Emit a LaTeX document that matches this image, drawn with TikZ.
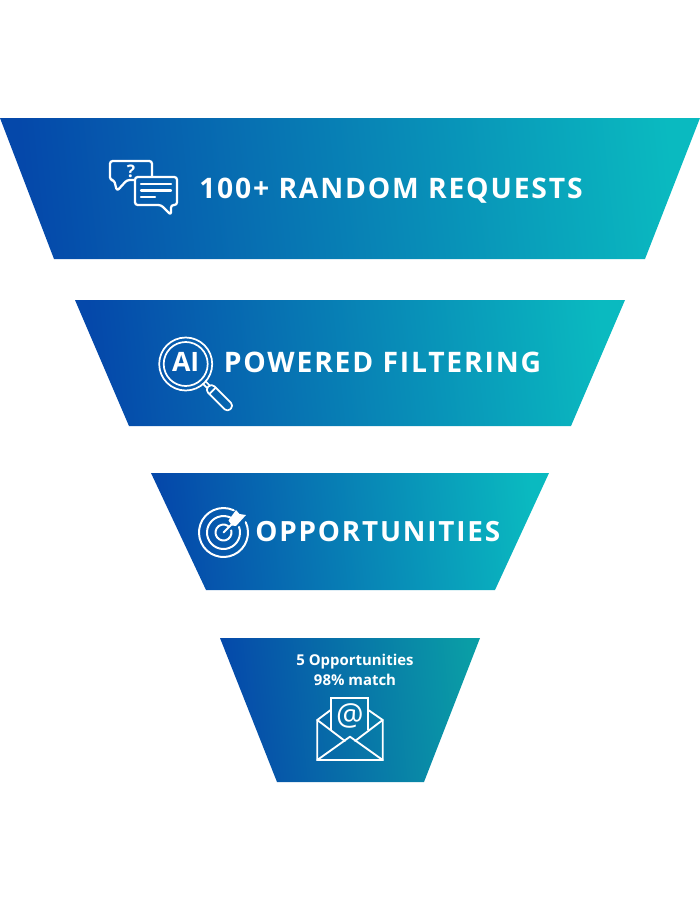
\documentclass[tikz,border=0pt]{standalone}
\usepackage{fontspec}
\setmainfont{Open Sans}
\newfontfamily\spacedfont[LetterSpace=6.5]{Open Sans}
\definecolor{funnelblue}{HTML}{0548AA}
\definecolor{funnelteal}{HTML}{0ABAC0}
\definecolor{funneldeep}{HTML}{0A9DA6}

\begin{document}
\begin{tikzpicture}[
    x=0.75pt, y=-0.75pt,
    band/.style={top color=funnelblue, bottom color=funnelteal, middle color=funnelblue!50!funnelteal, shading angle=96},
    lastband/.style={top color=funnelblue, bottom color=funneldeep, middle color=funnelblue!50!funneldeep, shading angle=96},
    heading/.style={anchor=base west, inner sep=0pt, text=white, font=\spacedfont\bfseries\fontsize{21.2}{24}\selectfont},
    small/.style={align=center, inner sep=0pt, text=white, font=\bfseries\fontsize{11.2}{15}\selectfont},
    icon/.style={draw=white, line width=1.7pt, line join=round, line cap=round}
  ]
  \useasboundingbox (0,0) rectangle (700,900);

  % funnel bands
  \shade[band] (0,118) -- (700,118) -- (645,259) -- (54,259) -- cycle;
  \shade[band] (75,300) -- (625,300) -- (571,426) -- (129,426) -- cycle;
  \shade[band] (151,473) -- (549,473) -- (495,590) -- (206,590) -- cycle;
  \shade[lastband] (220,638) -- (480,638) -- (424,782) -- (277,782) -- cycle;

  % headings
  \node[heading] (requests) at (199,198) {100+ RANDOM REQUESTS};
  \node[heading] (filtering) at (223.5,372) {POWERED FILTERING};
  \node[heading, font=\spacedfont\bfseries\fontsize{20.9}{24}\selectfont] (opportunities) at (255,541) {OPPORTUNITIES};
  \node[small] (match) at (355,670) {5 Opportunities\\98\% match};

  % chat bubbles
  \draw[icon, rounded corners=2pt] (134,180) -- (127,180) -- (117,191) -- (114,180) -- (110,180) -- (110,161) -- (152,161) -- (152,176);
  \draw[icon, rounded corners=2pt] (135,177) -- (177,177) -- (177,205) -- (171,205) -- (171,215) -- (161,205) -- (135,205) -- cycle;
  \draw[icon] (141,184) -- (171,184) (141,190.5) -- (171,190.5) (141,197) -- (155,197);
  \node[inner sep=0pt, text=white, font=\bfseries\fontsize{13}{14}\selectfont] (question) at (131,171) {?};

  % magnifier
  \draw[icon, line width=1.3pt] (185.7,364) circle (26.5);
  \draw[icon, line width=1.3pt] (185.7,364) circle (22);
  \node[inner sep=0pt, text=white, font=\bfseries\fontsize{20}{22}\selectfont] (ai) at (185.7,362) {AI};
  \begin{scope}[shift={(185.7,364)}, rotate=-45]
    \draw[icon, line width=1.3pt] (26.5,-1.8) -- (32,-1.8) (26.5,1.8) -- (32,1.8);
    \draw[icon, line width=1.3pt, rounded corners=3pt] (32,-4.5) rectangle (63.5,4.5);
    \draw[icon, line width=1.3pt] (38,-4.5) -- (38,4.5);
  \end{scope}

  % target
  \draw[icon, line width=1.5pt] (223.5,532.5) ++(-25:24.5) arc[start angle=-25, end angle=295, radius=24.5];
  \draw[icon, line width=1.5pt] (223.5,532.5) ++(-20:16.5) arc[start angle=-20, end angle=300, radius=16.5];
  \draw[icon, line width=1.5pt] (223.5,532.5) ++(-15:8) arc[start angle=-15, end angle=305, radius=8];
  \draw[icon, line width=1.5pt] (223.5,532.5) -- (232,524);
  \fill[white] (232,525.5) -- (228.5,520.5) -- (236,510) -- (239.5,514) -- (246,515) -- (236,526) -- cycle;

  % envelope
  \draw[icon, line width=1.4pt, line join=miter, line cap=butt] (330.7,730) -- (330.7,697.7) -- (368.3,697.7) -- (368.3,730);
  \draw[icon, line width=1.4pt, line join=miter] (330.7,710) -- (317.3,720) -- (317.3,760) -- (382.7,760) -- (382.7,720) -- (368.3,710);
  \draw[icon, line width=1.4pt] (317.3,720) -- (345,741) (382.7,720) -- (355,741);
  \draw[icon, line width=1.4pt] (317.3,760) -- (350,736.7) -- (382.7,760);
  \node[inner sep=0pt, text=white, font=\fontsize{23}{24}\selectfont] (at) at (350,716) {@};
\end{tikzpicture}
\end{document}
